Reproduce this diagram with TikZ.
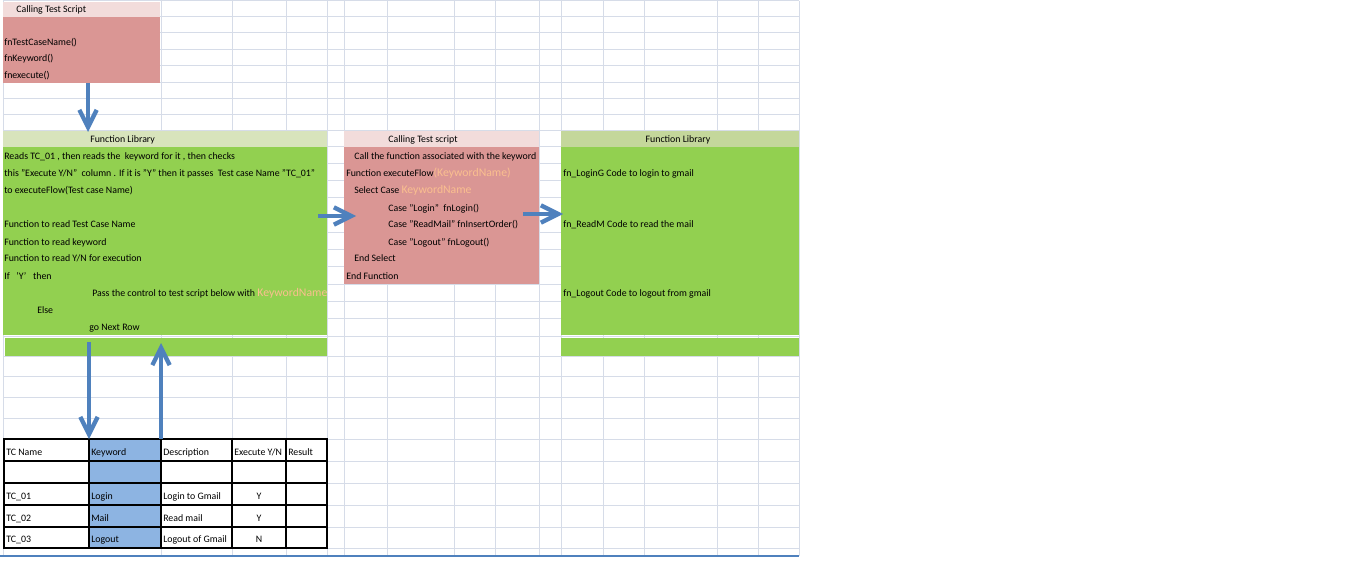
\documentclass[tikz,border=0pt]{standalone}
\usepackage{fontspec}
\setmainfont{Carlito}
\usetikzlibrary{arrows.meta,fit}
\definecolor{gridc}{HTML}{D6DCE8}
\definecolor{pinkh}{HTML}{F2DCDB}
\definecolor{pinkb}{HTML}{DA9694}
\definecolor{greenh}{HTML}{D8E4BC}
\definecolor{greenhr}{HTML}{C4D79B}
\definecolor{greenb}{HTML}{92D050}
\definecolor{kwblue}{HTML}{8DB4E2}
\definecolor{arrowc}{HTML}{4F81BD}
\definecolor{orangek}{HTML}{FABF8F}
\begin{document}
\begin{tikzpicture}[x=0.75pt,y=-0.75pt,
  cellbox/.style={inner sep=0pt, outer sep=0pt, draw=none},
  txt/.style={anchor=base west, inner sep=0pt, font=\fontsize{7.4}{8}\selectfont, text=black},
  ctxt/.style={anchor=base, inner sep=0pt, font=\fontsize{7.4}{8}\selectfont, text=black},
  flow/.style={draw=arrowc, line width=3.2pt, -{Straight Barb[length=13pt,width=13pt]}},
  gl/.style={draw=gridc, line width=0.75pt},
  tbl/.style={draw=black, line width=1.4pt},
]
\newcommand{\kwn}[1]{{\fontsize{8.8}{10}\selectfont\color{orangek}#1}}
\useasboundingbox (0,0) rectangle (1360,574);
\fill[white] (0,0) rectangle (1360,574);

% spreadsheet grid
\foreach \yy in {1,17,33,50,66,83,99,115,131,147,164,181,198,215,232,249,266,284,301,318,336,356,376,397,418,439,461,483,505,527,548}
  \draw[gl] (3,\yy) -- (799,\yy);
\foreach \xx in {3,161,232,286,327,344,387,454,495,539,561,603,644,717,758,799}
  \draw[gl] (\xx,1) -- (\xx,556);
\draw[arrowc, line width=0.9pt] (0,556) -- (799,556);

% top calling test script
\node[cellbox, fit={(3,2) (160,17)}, fill=pinkh] (tsh) {};
\node[cellbox, fit={(3,17) (160,83)}, fill=pinkb] (tsb) {};
\node[txt] (tsht) at (16,13) {Calling Test Script};
\node[txt] (ts1) at (4,46) {fnTestCaseName()};
\node[txt] (ts2) at (4,62) {fnKeyword()};
\node[txt] (ts3) at (4,79) {fnexecute()};

% left function library
\node[cellbox, fit={(3,131) (327,147)}, fill=greenh] (flh) {};
\node[cellbox, fit={(3,147) (327,335)}, fill=greenb] (flb) {};
\node[cellbox, fit={(5,337.5) (327,356)}, fill=greenb] (fls) {};
\node[txt] (flht) at (90,143) {Function Library};
\node[txt] (fl1) at (4,160) {Reads TC\_01 , then reads the\ \ keyword for it , then checks};
\node[txt] (fl2) at (4,177) {this "Execute Y/N"\ \ column . If it is "Y" then it passes\ \ Test case Name "TC\_01"};
\node[txt] (fl3) at (4,194) {to executeFlow(Test case Name)};
\node[txt] (fl4) at (4,228) {Function to read Test Case Name};
\node[txt] (fl5) at (4,245) {Function to read keyword};
\node[txt] (fl6) at (4,262) {Function to read Y/N for execution};
\node[txt] (fl7) at (4,279) {If\ \ \ 'Y'\ \ \ then};
\node[txt] (fl8) at (92,296) {Pass the control to test script below with \kwn{KeywordName}};
\node[txt] (fl9) at (37,313) {Else};
\node[txt] (fl10) at (89,330) {go Next Row};

% middle calling test script
\node[cellbox, fit={(344,131) (539,147)}, fill=pinkh] (csh) {};
\node[cellbox, fit={(344,147) (539,284)}, fill=pinkb] (csb) {};
\node[ctxt] (csht) at (423,143) {Calling Test script};
\node[txt] (cs1) at (354,160) {Call the function associated with the keyword};
\node[txt] (cs2) at (346,177) {Function executeFlow\kwn{(KeywordName)}};
\node[txt] (cs3) at (354,194) {Select Case \kwn{KeywordName}};
\node[txt] (cs4) at (388,211) {Case "Login"\ \ fnLogin()};
\node[txt] (cs5) at (388,228) {Case "ReadMail" fnInsertOrder()};
\node[txt] (cs6) at (388,245) {Case "Logout" fnLogout()};
\node[txt] (cs7) at (354,262) {End Select};
\node[txt] (cs8) at (346,279) {End Function};

% right function library
\node[cellbox, fit={(561,131) (799,147)}, fill=greenhr] (frh) {};
\node[cellbox, fit={(561,147) (799,335)}, fill=greenb] (frb) {};
\node[cellbox, fit={(561,337.5) (799,356)}, fill=greenb] (frs) {};
\node[ctxt] (frht) at (678,143) {Function Library};
\node[txt] (fr1) at (563,177) {fn\_LoginG Code to login to gmail};
\node[txt] (fr2) at (563,228) {fn\_ReadM Code to read the mail};
\node[txt] (fr3) at (563,296) {fn\_Logout Code to logout from gmail};

% test case table
\node[cellbox, fit={(4,439) (327,548)}, fill=white] (tab) {};
\node[cellbox, fit={(89,439) (161,548)}, fill=kwblue] (kwcol) {};
\draw[tbl] (4,439) rectangle (327,548);
\foreach \xx in {89,161,232,286} \draw[tbl] (\xx,439) -- (\xx,548);
\foreach \yy in {461,483,505,527} \draw[tbl] (4,\yy) -- (327,\yy);
\node[txt] (h1) at (6,455) {TC Name};
\node[txt] (h2) at (91,455) {Keyword};
\node[txt] (h3) at (163,455) {Description};
\node[txt] (h4) at (234,455) {Execute Y/N};
\node[txt] (h5) at (288,455) {Result};
\node[txt] (r1a) at (6,499) {TC\_01};
\node[txt] (r1b) at (91,499) {Login};
\node[txt] (r1c) at (163,499) {Login to Gmail};
\node[ctxt] (r1d) at (259,499) {Y};
\node[txt] (r2a) at (6,521) {TC\_02};
\node[txt] (r2b) at (91,521) {Mail};
\node[txt] (r2c) at (163,521) {Read mail};
\node[ctxt] (r2d) at (259,521) {Y};
\node[txt] (r3a) at (6,542) {TC\_03};
\node[txt] (r3b) at (91,542) {Logout};
\node[txt] (r3c) at (163,542) {Logout of Gmail};
\node[ctxt] (r3d) at (259,542) {N};

% arrows
\coordinate (a1s) at (88,83);
\coordinate (a1e) at (88,132);
\coordinate (a2s) at (318,216);
\coordinate (a2e) at (356,216);
\coordinate (a3s) at (523,214);
\coordinate (a3e) at (563,214);
\coordinate (a4s) at (89,342);
\coordinate (a4e) at (89,439);
\coordinate (a5s) at (161,439);
\coordinate (a5e) at (161,343);
\draw[flow] (a1s) -- (a1e);
\draw[flow] (a2s) -- (a2e);
\draw[flow] (a3s) -- (a3e);
\draw[flow] (a4s) -- (a4e);
\draw[flow] (a5s) -- (a5e);
\end{tikzpicture}
\end{document}
